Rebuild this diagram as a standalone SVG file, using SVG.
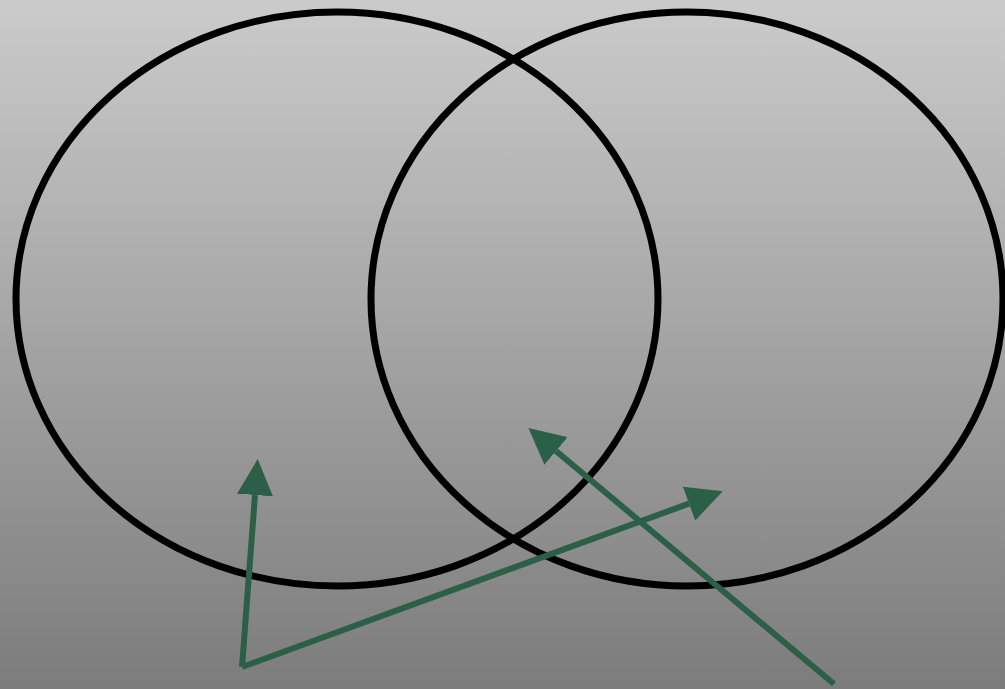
<svg xmlns="http://www.w3.org/2000/svg" width="1005" height="689" viewBox="0 0 1005 689">
<defs>
<linearGradient id="bg" x1="0" y1="0" x2="0" y2="1">
<stop offset="0" stop-color="#cbcbcb"/>
<stop offset="1" stop-color="#7c7c7c"/>
</linearGradient>
<marker id="ah" markerUnits="userSpaceOnUse" markerWidth="36" markerHeight="36" refX="0" refY="17" orient="auto" viewBox="0 0 34 34">
<path d="M0,0 L34,17 L0,34 z" fill="#2b5f48"/>
</marker>
<style>
.c{fill:none;stroke:#000;stroke-width:7}
.a{fill:none;stroke:#2b5f48;stroke-width:6;marker-end:url(#ah)}
</style>
</defs>
<rect width="1005" height="689" fill="url(#bg)"/>
<g id="circleA"><ellipse class="c" cx="337" cy="299" rx="321" ry="287"/></g>
<g id="circleB"><ellipse class="c" cx="687" cy="299" rx="316" ry="287"/></g>
<g id="connectors">
<line class="a" x1="242" y1="667" x2="255" y2="495"/>
<line class="a" x1="242" y1="667" x2="689" y2="503.6"/>
<line class="a" x1="834" y1="684" x2="556" y2="451"/>
</g>
</svg>
